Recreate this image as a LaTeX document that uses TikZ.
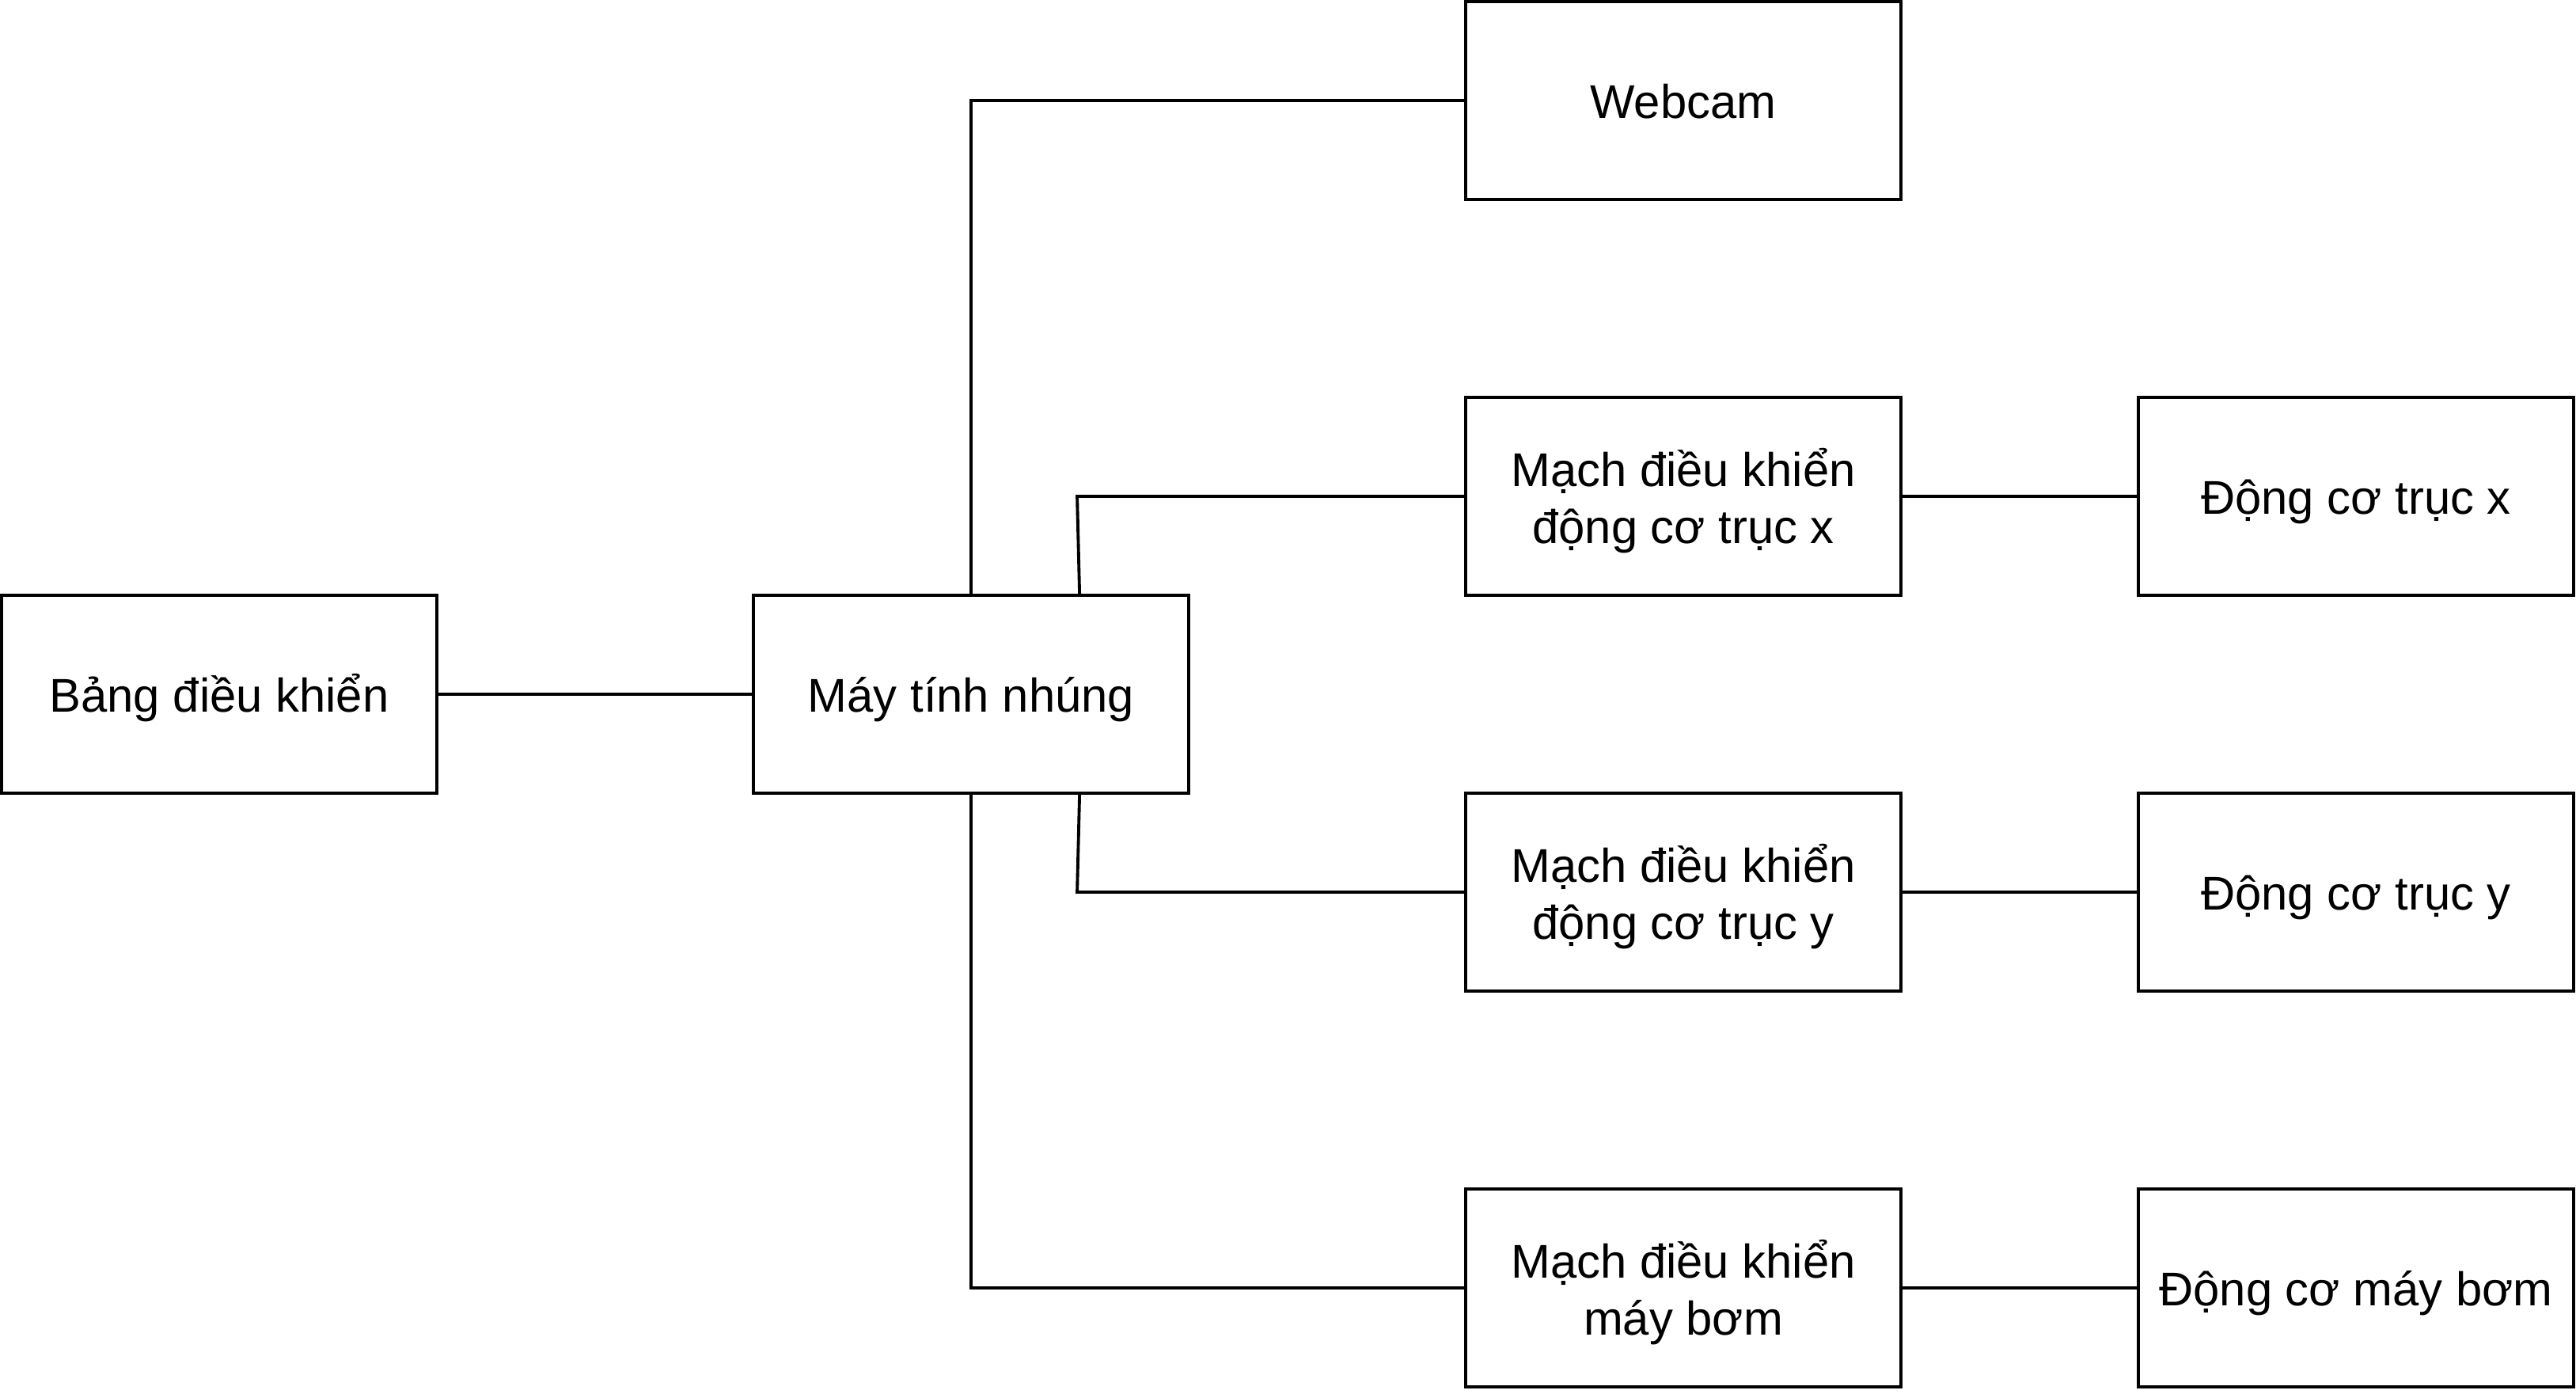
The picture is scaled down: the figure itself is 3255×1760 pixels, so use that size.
\documentclass[tikz,border=0pt]{standalone}
\usepackage{fontspec}
\setmainfont{Liberation Sans}

\definecolor{edge}{HTML}{000000}

\begin{document}
\begin{tikzpicture}[x=0.01cm, y=-0.01cm,
    block/.style={draw=edge, line width=1.1pt, minimum width=5.5cm, minimum height=2.5cm,
        inner sep=0pt, align=center, font=\fontsize{17}{20.3}\selectfont,
        text height=16.4pt, text depth=3.4pt},
    twoline/.style={block, text height=37pt},
    wire/.style={draw=edge, line width=1.1pt}]

\useasboundingbox (0,0) rectangle (3255,1760);

% ---- Left side ----
\node[block] (bang) at (277,877) {Bảng điều khiển};
\node[block] (may) at (1227,877) {Máy tính nhúng};

% ---- Middle column ----
\node[block] (webcam) at (2127,127) {Webcam};
\node[twoline] (machx) at (2127,627) {Mạch điều khiển\\động cơ trục x};
\node[twoline] (machy) at (2127,1127) {Mạch điều khiển\\động cơ trục y};
\node[twoline] (machb) at (2127,1627) {Mạch điều khiển\\máy bơm};

% ---- Right column (motors) ----
\node[block] (dcx) at (2977,627) {Động cơ trục x};
\node[block] (dcy) at (2977,1127) {Động cơ trục y};
\node[block] (dcb) at (2977,1627) {Động cơ máy bơm};

% ---- Connections ----
\draw[wire] (bang) -- (may);
\draw[wire] (may.north) |- (webcam.west);
\draw[wire] ([xshift=1.37cm]may.north) -- ([xshift=1.34cm]may.north |- machx.west) -- (machx.west);
\draw[wire] ([xshift=1.37cm]may.south) -- ([xshift=1.34cm]may.south |- machy.west) -- (machy.west);
\draw[wire] (may.south) |- (machb.west);

% driver -> motor
\foreach \drv/\mot in {machx/dcx, machy/dcy, machb/dcb}{
    \draw[wire] (\drv) -- (\mot);
}

\end{tikzpicture}
\end{document}
